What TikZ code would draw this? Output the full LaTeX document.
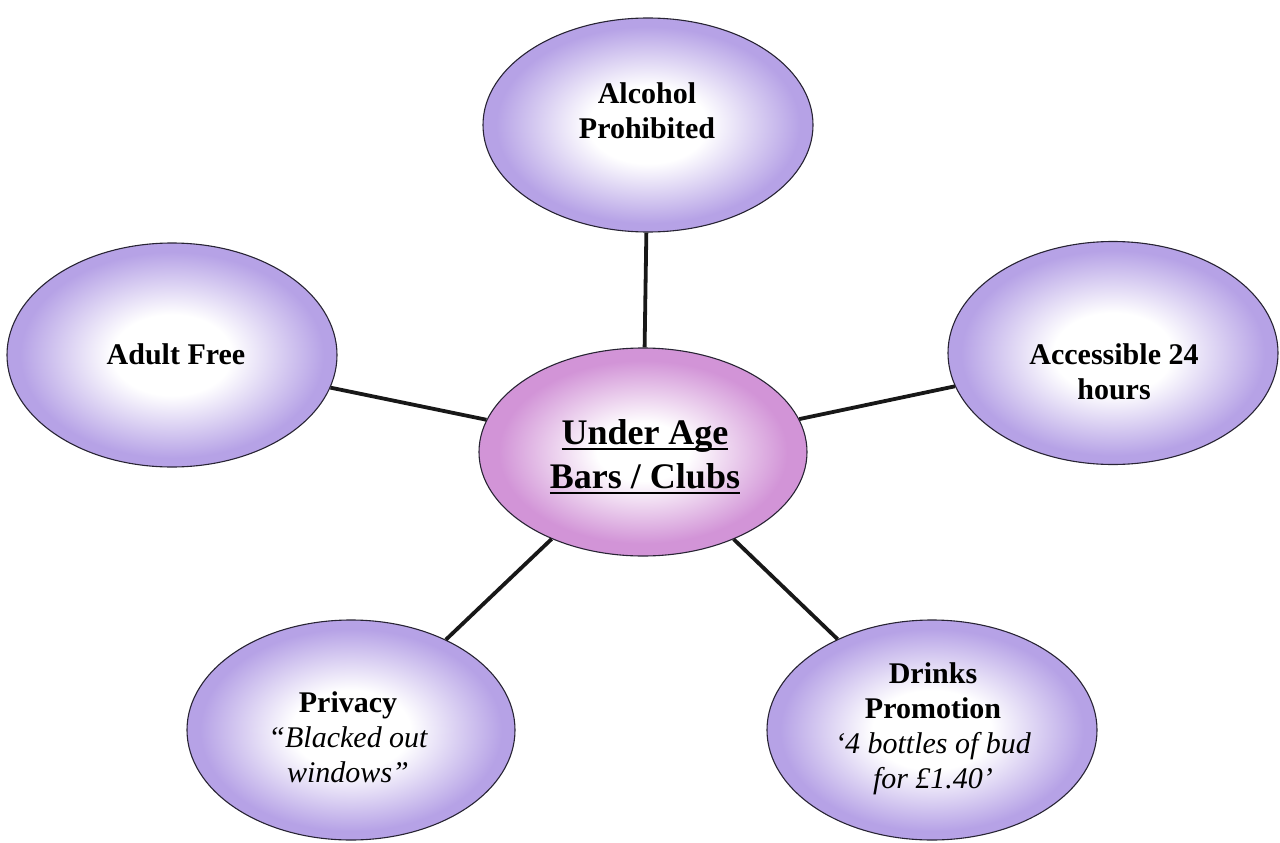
\documentclass[tikz,border=0pt]{standalone}
\usepackage{fontspec}
\setmainfont{Liberation Serif}
\usetikzlibrary{shapes.geometric}

\definecolor{lav}{RGB}{182,162,230}
\definecolor{orch}{RGB}{210,148,215}
\definecolor{rimline}{RGB}{40,36,52}
\definecolor{linkline}{RGB}{24,24,24}

% soft white glow in the middle of each bubble
\pgfdeclareradialshading{lavglow}{\pgfpoint{0bp}{0bp}}{color(0bp)=(white); color(9bp)=(white); color(23bp)=(lav); color(50bp)=(lav)}
\pgfdeclareradialshading{orchglow}{\pgfpoint{0bp}{0bp}}{color(0bp)=(white); color(7bp)=(white); color(22bp)=(orch); color(50bp)=(orch)}

% underline drawn as a rule just below the baseline
\newcommand\ulbar[1]{\setbox0\hbox{#1}\rlap{\rule[-0.17em]{\wd0}{0.055em}}\box0}
\newcommand\quoteline[1]{{\mdseries\itshape #1}}

\tikzset{
  bubble/.style={ellipse, draw=rimline, line width=1.1pt, inner sep=0pt, shade, shading=lavglow},
  hub/.style={bubble, shading=orchglow},
  caption/.style={align=center, inner sep=0pt, anchor=north, text=black,
    font=\fontsize{30}{35}\selectfont\bfseries},
  hubcaption/.style={caption, font=\fontsize{36}{44}\selectfont\bfseries},
  conn/.style={draw=linkline, line width=3.8pt}
}

\begin{document}
\begin{tikzpicture}[x=1pt,y=-1pt]
\useasboundingbox (0,0) rectangle (1280,843);

% bubbles
\node[hub, minimum width=328pt, minimum height=208pt] (mid) at (643,452) {};
\node[bubble, minimum width=330pt, minimum height=214pt] (top) at (648,125) {};
\node[bubble, minimum width=330pt, minimum height=224pt] (left) at (172,355) {};
\node[bubble, minimum width=330pt, minimum height=223pt] (right) at (1113,353) {};
\node[bubble, minimum width=328pt, minimum height=220pt] (botl) at (351,730) {};
\node[bubble, minimum width=330pt, minimum height=220pt] (botr) at (932,730) {};

% spokes
\draw[conn] (mid) -- (top);
\draw[conn] (mid) -- (left);
\draw[conn] (mid) -- (right);
\draw[conn] (mid) -- (botl);
\draw[conn] (mid) -- (botr);

% captions
\node[hubcaption] (midtxt) at (645,419) {\ulbar{Under Age}\\\ulbar{Bars / Clubs}};
\node[caption] (toptxt) at (647,82) {Alcohol\\Prohibited};
\node[caption] (lefttxt) at (176,343) {Adult Free};
\node[caption] (righttxt) at (1114,343) {Accessible 24\\hours};
\node[caption] (botltxt) at (348,691) {Privacy\\\quoteline{“Blacked out}\\\quoteline{windows”}};
\node[caption] (botrtxt) at (933,662) {Drinks\\Promotion\\\quoteline{‘4 bottles of bud}\\\quoteline{for £1.40’}};
\end{tikzpicture}
\end{document}
